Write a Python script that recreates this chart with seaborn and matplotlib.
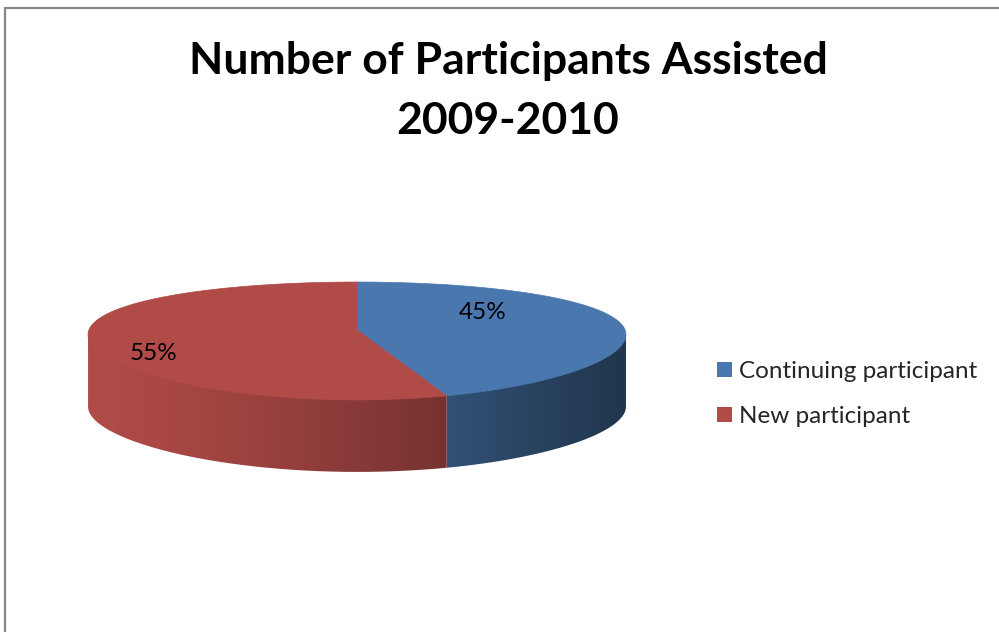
import numpy as np
import matplotlib
matplotlib.use("Agg")
import matplotlib.pyplot as plt
from matplotlib.patches import Polygon, Patch
import seaborn as sns

# ---- data ----
categories = ["Continuing participant", "New participant"]
shares = [45, 55]
label_texts = ["45%", "55%"]
title_lines = ["Number of Participants Assisted", "2009-2010"]

sns.set_theme(style="white")
plt.rcParams["font.family"] = ["Lato", "DejaVu Sans"]
palette = sns.color_palette(["#4a78ae", "#b04b48"])

W, H = 999, 632
fig = plt.figure(figsize=(W / 100, H / 100), dpi=100)
fig.patch.set_facecolor("white")
ax = fig.add_axes([0, 0, 1, 1])
ax.set_xlim(0, W)
ax.set_ylim(H, 0)
ax.axis("off")

# ---- 3-D pie geometry (pixel space, slight perspective) ----
CX, CY = 357, 330      # projected pie centre
A, B = 268.1, 56.9     # horizontal / vertical radii
KX, KY = 0.08, 0.186   # perspective strength (front larger than back)
DEPTH = 72             # thickness of the disc


def project(theta, r=1.0):
    """Map a point on the disc (angle clockwise from the back) to pixels."""
    u = r * np.sin(theta)
    v = -r * np.cos(theta)
    return CX + A * u / (1 - KX * v), CY + B * v / (1 - KY * v)


total = float(sum(shares))
bounds = np.concatenate([[0.0], np.cumsum(shares) / total * 2 * np.pi])

x_left, x_right = CX - A * 1.004, CX + A * 1.004


def shade(x):
    """Side lighting: bright on the left, dark on the right."""
    t = np.clip((x - x_left) / (x_right - x_left), 0, 1)
    return 1.0 - 0.56 * t ** 1.3


# side wall over the visible front arc, one gradient-filled piece per slice
t0 = np.arccos(-KX)
t1 = 2 * np.pi - t0
gx = np.linspace(0, W, 1000)
for i in range(len(shares)):
    a0, a1 = max(bounds[i], t0), min(bounds[i + 1], t1)
    if a1 <= a0:
        continue
    th = np.linspace(a0, a1, 300)
    xs, ys = project(th)
    pts = list(zip(xs, ys - 2)) + list(zip(xs[::-1], ys[::-1] + DEPTH))
    wall = Polygon(pts, closed=True, facecolor="none", edgecolor="none")
    ax.add_patch(wall)
    grad = np.clip(np.array(palette[i])[None, None, :] * shade(gx)[None, :, None], 0, 1)
    im = ax.imshow(grad, extent=(0, W, H, 0), aspect="auto",
                   interpolation="bilinear", zorder=1)
    im.set_clip_path(wall)

# top face
for i in range(len(shares)):
    th = np.linspace(bounds[i], bounds[i + 1], 300)
    xs, ys = project(th)
    pts = [(CX, CY)] + list(zip(xs, ys))
    ax.add_patch(Polygon(pts, closed=True, facecolor=palette[i],
                         edgecolor=palette[i], lw=0.5, zorder=2))

# data labels (position on the disc: u, v)
label_uv = [(0.48, -0.317), (-0.735, 0.376)]
for txt, (u, v) in zip(label_texts, label_uv):
    ax.text(CX + A * u / (1 - KX * v), CY + B * v / (1 - KY * v), txt,
            ha="center", va="center", fontsize=17.5, color="black", zorder=3)

# title
fig.text(508 / W, 1 - 91 / H, "\n".join(title_lines), ha="center", va="center",
         fontsize=32, fontweight="bold", linespacing=1.6, color="black")

# legend
handles = [Patch(facecolor=c, edgecolor="none", label=l)
           for c, l in zip(palette, categories)]
fig.legend(handles=handles, loc="center left",
           bbox_to_anchor=(717 / W, 1 - 394 / H), frameon=False, fontsize=17.5,
           handlelength=0.6, handleheight=0.6, handletextpad=0.3,
           labelspacing=1.0, borderaxespad=0, borderpad=0)

# chart-area border
ax.plot([4.5, W + 5], [7.5, 7.5], color="#878787", lw=1.6, clip_on=False)
ax.plot([4.5, 4.5], [7.5, H + 5], color="#878787", lw=1.6, clip_on=False)

fig.savefig("out.png", dpi=100)
